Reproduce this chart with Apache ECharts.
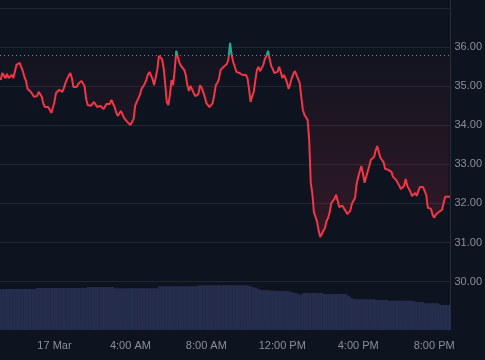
<!DOCTYPE html>
<html><head><meta charset="utf-8">
<style>html,body{margin:0;padding:0;background:#0e1320;}#c{width:485px;height:360px;}</style>
<script src="https://cdn.jsdelivr.net/npm/echarts@6/dist/echarts.min.js"></script>
</head><body><div id="c"></div>
<script>
// ---- data ----
// time is in minutes from 17 Mar 00:00
const START_MIN = -170;                          // first bar: 21:10 on 16 Mar
const STEP_MIN = 5;                              // 5-minute bars
const baseline = 35.80;

const price = [
  35.16,35.34,35.29,35.21,35.32,35.21,35.16,35.29,35.21,35.24,
  35.55,35.60,35.60,35.60,35.39,35.24,35.14,34.93,34.88,34.86,
  34.80,34.73,34.73,34.75,34.86,34.91,34.73,34.55,34.47,34.45,
  34.47,34.40,34.32,34.45,34.60,34.83,34.86,34.91,34.88,34.86,
  34.96,35.09,35.19,35.27,35.34,35.21,34.98,34.98,34.98,35.06,
  35.11,35.14,35.14,35.01,34.68,34.52,34.47,34.50,34.52,34.60,
  34.57,34.47,34.52,34.50,34.45,34.42,34.47,34.55,34.55,34.55,
  34.65,34.63,34.47,34.34,34.24,34.22,34.37,34.40,34.19,34.14,
  34.09,34.09,34.01,33.96,34.16,34.50,34.60,34.57,34.78,34.93,
  34.98,35.06,35.16,35.29,35.37,35.32,35.19,35.03,35.03,35.42,
  35.78,35.73,35.70,35.47,35.06,34.60,34.52,34.78,35.16,35.03,
  35.42,35.91,35.75,35.60,35.52,35.47,35.42,35.29,35.03,34.88,
  35.01,35.06,34.83,34.75,34.78,34.80,35.03,34.96,34.86,34.73,
  34.57,34.52,34.47,34.45,34.57,34.78,35.03,35.09,35.19,35.42,
  35.47,35.50,35.52,35.57,35.70,36.11,35.80,35.62,35.50,35.37,
  35.34,35.34,35.34,35.29,35.24,35.29,35.21,34.93,34.60,34.75,
  34.86,35.16,35.42,35.50,35.39,35.34,35.55,35.70,35.78,35.91,
  35.70,35.52,35.44,35.34,35.29,35.37,35.50,35.37,35.21,35.29,
  35.21,35.09,34.93,35.06,35.21,35.32,35.39,35.34,35.19,35.09,
  34.73,34.40,34.27,34.22,34.14,33.63,32.53,32.25,31.78,31.66,
  31.53,31.30,31.14,31.22,31.30,31.37,31.55,31.63,31.78,32.01,
  32.01,32.12,32.22,32.07,31.91,31.89,31.94,31.89,31.81,31.73,
  31.68,31.81,31.99,32.07,32.14,32.50,32.68,32.63,32.96,32.76,
  32.53,32.68,32.68,32.96,33.12,33.17,33.19,33.35,33.47,33.32,
  33.17,33.14,33.06,32.89,32.86,32.86,32.83,32.81,32.68,32.63,
  32.60,32.55,32.45,32.37,32.37,32.45,32.63,32.45,32.40,32.30,
  32.19,32.19,32.27,32.19,32.32,32.42,32.42,32.42,32.37,32.22,
  31.89,31.84,31.86,31.71,31.63,31.71,31.76,31.78,31.78,31.84,
  32.01,32.17,32.17,32.17,32.17
];

const volume = [
  820,820,820,820,820,820,820,820,820,820,820,820,820,820,820,820,820,820,820,820,820,820,820,
  840,840,840,840,840,840,840,840,840,840,840,840,840,840,840,840,
  840,840,840,840,840,840,840,840,840,840,840,840,840,840,840,840,
  860,860,860,860,860,860,860,860,860,860,860,860,860,860,860,860,860,
  834,834,834,834,834,834,834,834,834,834,834,834,834,834,
  834,834,834,834,834,834,834,834,834,834,834,834,834,834,
  874,874,874,874,874,874,874,874,874,874,874,874,874,
  874,874,874,874,874,874,874,874,874,874,874,874,
  894,894,894,894,894,894,894,894,894,894,894,894,894,894,894,894,
  894,894,894,894,894,894,894,894,894,894,894,894,894,894,894,
  890,885,876,866,856,844,830,816,806,
  800,800,800,798,796,792,790,788,786,784,782,780,780,780,778,776,774,
  770,764,756,748,740,732,724,714,704,
  740,740,740,740,740,740,740,740,740,740,740,740,740,
  720,720,720,720,720,720,720,720,720,720,720,720,720,720,720,
  700,680,660,640,620,
  614,614,614,614,614,614,614,614,614,614,614,614,614,
  608,600,
  600,600,600,600,600,600,
  586,586,586,586,586,586,586,586,586,586,586,586,586,586,586,586,
  576,568,
  560,560,560,560,560,
  534,534,534,534,534,534,534,534,534,
  516,
  500,500,500,500,500,500,500
];

const tickMinutes = [0, 240, 480, 720, 960, 1200];
const tickLabels = ['17 Mar', '4:00 AM', '8:00 AM', '12:00 PM', '4:00 PM', '8:00 PM'];
const priceTicks = [30, 31, 32, 33, 34, 35, 36];

// ---- build ----
const Y_MIN = 28.76, Y_MAX = 37.21, PLOT_H = 330;
const t = i => START_MIN + i * STEP_MIN;
const priceData = price.map((v, i) => [t(i), v]);
const volData = volume.map((v, i) => [t(i), v]);
const f = (Y_MAX - baseline) / (Y_MAX - Y_MIN);   // baseline position as fraction of plot height

const chart = echarts.init(document.getElementById('c'), null, {renderer: 'canvas'});
chart.setOption({
  backgroundColor: '#0e1320',
  animation: false,
  textStyle: {fontFamily: 'Liberation Sans, Arial, sans-serif'},
  grid: {left: 0, right: 30, top: 0, bottom: 30},
  xAxis: {
    type: 'value',
    min: -172.1,
    max: 1251.6,
    axisLine: {show: false},
    axisTick: {show: false},
    splitLine: {show: false},
    axisLabel: {
      customValues: tickMinutes,
      color: '#8a8e99',
      fontSize: 11,
      margin: 10,
      formatter: v => {
        const k = tickMinutes.indexOf(Math.round(v));
        return k >= 0 ? tickLabels[k] : '';
      }
    }
  },
  yAxis: [{
    type: 'value',
    position: 'right',
    min: Y_MIN,
    max: Y_MAX,
    minInterval: 1,
    maxInterval: 1,
    axisLine: {show: true, onZero: false, lineStyle: {color: '#2a2e39'}},
    axisTick: {show: false},
    axisLabel: {
      color: '#8a8e99',
      fontSize: 11,
      margin: 4,
      formatter: v => {
        const r = Math.round(v);
        return (Math.abs(v - r) < 1e-6 && priceTicks.indexOf(r) >= 0) ? r.toFixed(2) : '';
      }
    },
    splitLine: {show: true, showMinLine: false, showMaxLine: false, lineStyle: {color: '#222633', width: 1}}
  }, {
    type: 'value',
    min: 0,
    max: 6600,
    show: false
  }],
  series: [{
    type: 'line',
    data: priceData,
    symbol: 'none',
    z: 3,
    lineStyle: {
      width: 2,
      color: {
        type: 'linear', global: true, x: 0, y: 0, x2: 0, y2: PLOT_H,
        colorStops: [
          {offset: 0, color: '#22ab94'},
          {offset: f, color: '#22ab94'},
          {offset: f, color: '#f23645'},
          {offset: 1, color: '#f23645'}
        ]
      }
    },
    areaStyle: {
      origin: 'end',
      color: {
        type: 'linear', global: true, x: 0, y: 0, x2: 0, y2: PLOT_H,
        colorStops: [
          {offset: 0, color: 'rgba(242,54,69,0)'},
          {offset: f, color: 'rgba(242,54,69,0)'},
          {offset: f + 0.001, color: 'rgba(242,54,69,0.03)'},
          {offset: 1, color: 'rgba(242,54,69,0.32)'}
        ]
      }
    },
    markLine: {
      silent: true,
      symbol: 'none',
      label: {show: false},
      lineStyle: {color: '#787b86', type: [1, 3], width: 1},
      data: [{yAxis: baseline}]
    }
  }, {
    type: 'bar',
    yAxisIndex: 1,
    data: volData,
    barWidth: 2,
    silent: true,
    z: 1,
    itemStyle: {color: '#262e4d'}
  }]
});
</script>
</body></html>
